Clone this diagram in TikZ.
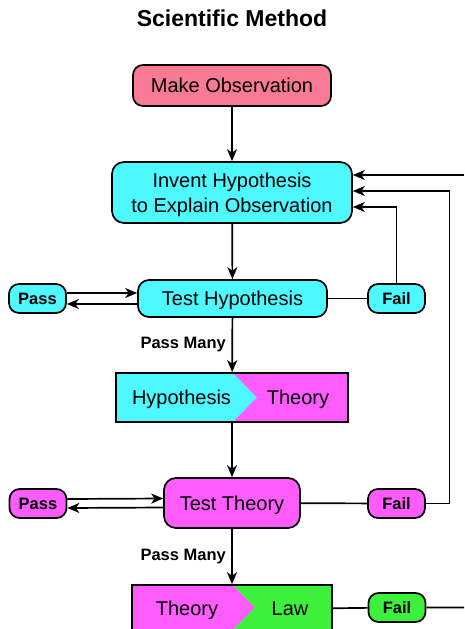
\documentclass[tikz,border=0pt]{standalone}
\usepackage{fontspec}
\setmainfont{Liberation Sans}
\usetikzlibrary{arrows.meta,backgrounds}
\definecolor{cyanF}{RGB}{77,248,255}
\definecolor{magF}{RGB}{255,92,255}
\definecolor{pinkF}{RGB}{248,122,148}
\definecolor{greenF}{RGB}{60,240,60}
\tikzset{
 box/.style={draw=black, line width=1.7pt, rounded corners=11pt, inner sep=0pt, font=\fontsize{20}{25}\selectfont, align=center, text depth=0pt},
 oneline/.style={text height=14.3pt, text depth=0pt},
 pill/.style={draw=black, line width=1.7pt, rounded corners=10pt, inner sep=0pt, minimum width=57pt, minimum height=29pt, font=\bfseries\fontsize{16.5}{19}\selectfont},
 conn/.style={line width=1.7pt, draw=black},
 arr/.style={conn, -{Stealth[length=12pt,width=10pt,inset=3.5pt]}},
 lbl/.style={font=\bfseries\fontsize{16.5}{20}\selectfont, inner sep=0pt},
 txt/.style={font=\fontsize{20}{25}\selectfont, inner sep=0pt, oneline},
 split/.style={draw=black, line width=1.7pt, inner sep=0pt},
}
\begin{document}
\begin{tikzpicture}[x=1pt,y=-1pt]
\useasboundingbox (0,0) rectangle (464,629);
\clip (0,0) rectangle (464,629);
\node[font=\bfseries\fontsize{23}{28}\selectfont] (title) at (232,18.5) {Scientific Method};
\node[box, oneline, fill=pinkF, minimum width=198pt, minimum height=41pt, rounded corners=10pt] (mo) at (232,85.5) {Make Observation};
\node[box, fill=cyanF, minimum width=240pt, minimum height=61pt, rounded corners=12pt] (inv) at (232,192.5) {Invent Hypothesis\\to Explain Observation};
\node[box, oneline, fill=cyanF, minimum width=189pt, minimum height=37pt] (th) at (232.5,298.5) {Test Hypothesis};
\node[pill, fill=cyanF] (pass1) at (37.5,298.5) {Pass};
\node[pill, fill=cyanF] (fail1) at (396.5,298.5) {Fail};
\node[split, minimum width=232pt, minimum height=49pt] (ht) at (232,397.5) {};
\node[txt] (htA) at (181.5,397.5) {Hypothesis};
\node[txt] (htB) at (298,397.5) {Theory};
\node[box, oneline, fill=magF, minimum width=136pt, minimum height=50pt, rounded corners=12pt] (tt) at (232,503) {Test Theory};
\node[pill, fill=magF] (pass2) at (38,503.5) {Pass};
\node[pill, fill=magF] (fail2) at (396.5,503.5) {Fail};
\node[split, minimum width=200pt, minimum height=49pt] (tl) at (232,609.5) {};
\node[txt] (tlA) at (187,608) {Theory};
\node[txt] (tlB) at (290,608) {Law};
\node[pill, fill=greenF] (fail3) at (397,607.5) {Fail};
\node[lbl, anchor=east] (pm1) at (226,345) {Pass Many};
\node[lbl, anchor=east] (pm2) at (226,557) {Pass Many};
\begin{scope}[on background layer]
\fill[cyanF] (ht.north west) -- (233,373) -- (257,397.5) -- (233,422) -- (ht.south west) -- cycle;
\fill[magF] (233,373) -- (ht.north east) -- (ht.south east) -- (233,422) -- (257,397.5) -- cycle;
\fill[magF] (tl.north west) -- (233,585) -- (255,607.5) -- (233,630) -- (233,634) -- (tl.south west) -- cycle;
\fill[greenF] (233,585) -- (tl.north east) -- (tl.south east) -- (233,634) -- (233,630) -- (255,607.5) -- cycle;
\end{scope}
\coordinate (e1) at (464,175);
\coordinate (e2) at (464,607.5);
\coordinate (r2) at (449.5,191);
% main flow
\draw[arr] (mo) -- (inv);
\draw[arr] (inv) -- (th);
\draw[arr] (th) -- (ht);
\draw[arr] (ht) -- (tt);
\draw[arr] (tt) -- (tl);
% pass loops
\draw[arr] ([yshift=5.5pt]pass1.east) -- ([yshift=5.5pt]th.west);
\draw[arr] ([yshift=-5.5pt]th.west) -- ([yshift=-5.5pt]pass1.east);
\draw[arr] ([yshift=4.5pt]pass2.east) -- ([yshift=4.5pt]tt.west);
\draw[arr] ([yshift=-4.5pt]tt.west) -- ([yshift=-4.5pt]pass2.east);
% fail loops
\draw[conn] (th) -- (fail1);
\draw[arr] (fail1.north) |- ([yshift=-14.5pt]inv.east);
\draw[conn] (tt) -- (fail2);
\draw[arr] (fail2.east) -| (r2) -- ([yshift=1.5pt]inv.east);
\draw[conn] (tl) -- (fail3) -- (e2);
\draw[arr] (e1) -- ([yshift=17.5pt]inv.east);
\end{tikzpicture}
\end{document}
